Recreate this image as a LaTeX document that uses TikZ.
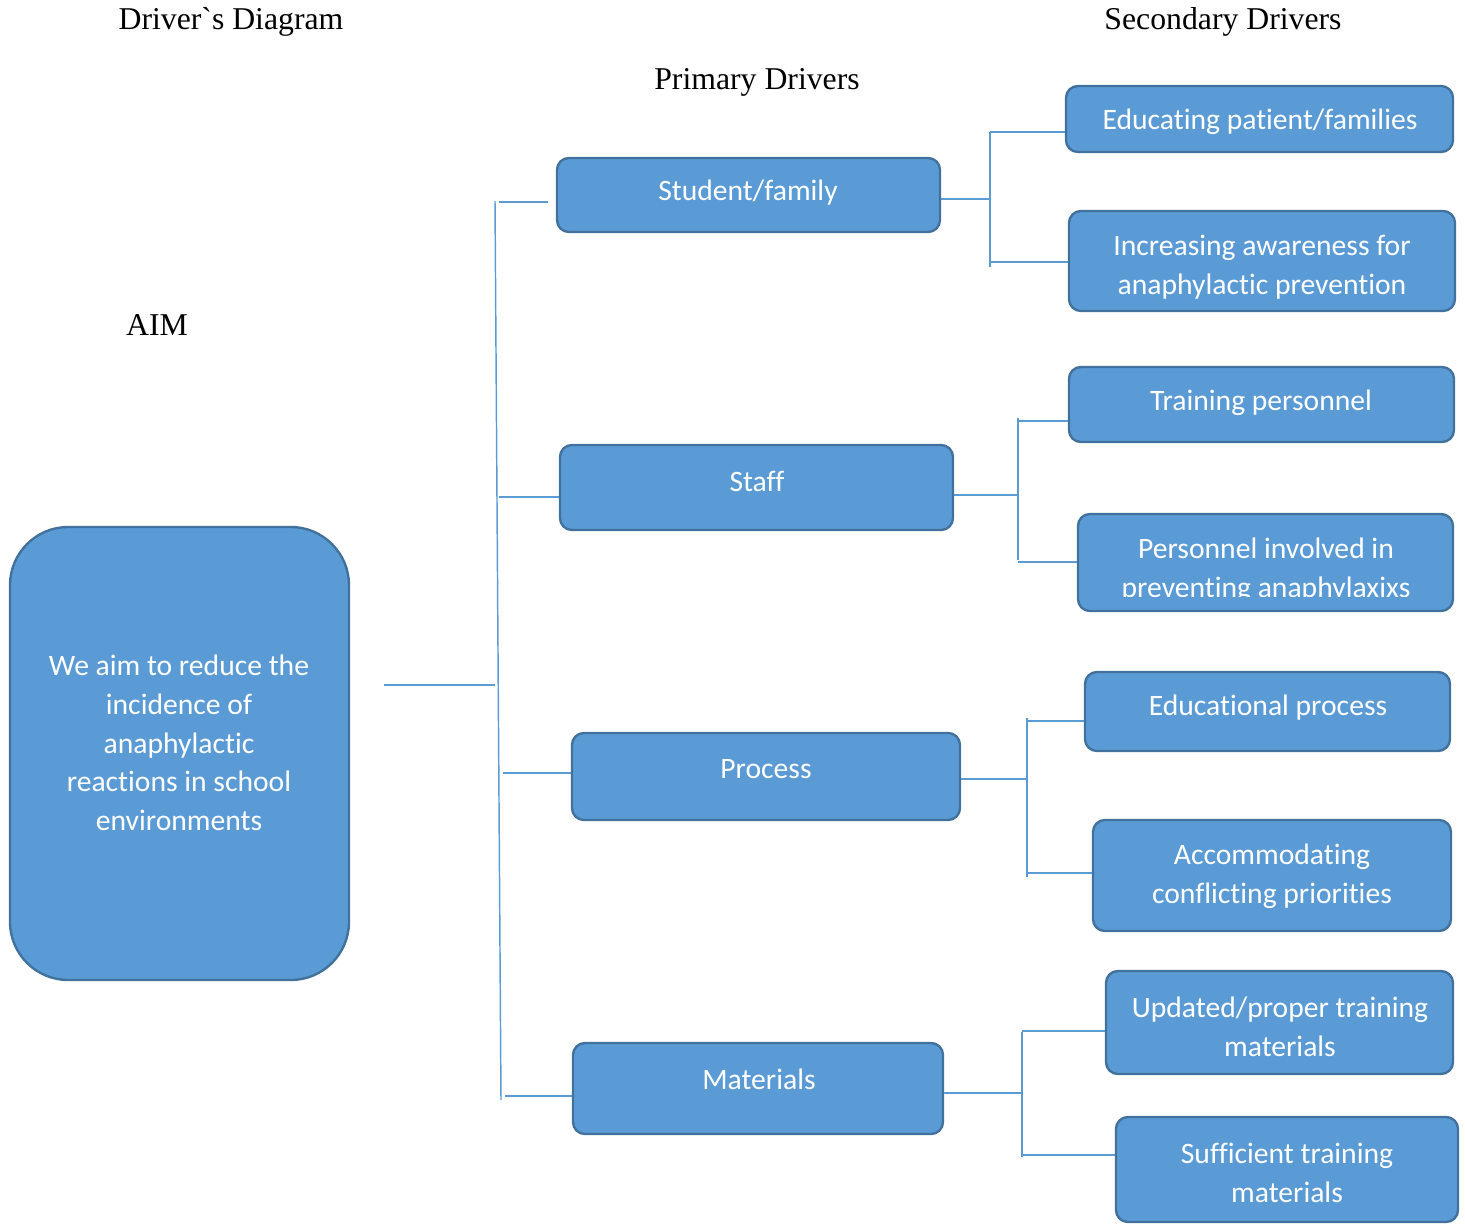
\documentclass[tikz,border=0pt]{standalone}
\usepackage{fontspec}
\setmainfont{Liberation Serif}
\newfontfamily\calibri[Ligatures=NoCommon]{Carlito}
\usepackage{tikz}
\usetikzlibrary{positioning, fit}
\definecolor{boxblue}{HTML}{5B9BD5}
\definecolor{boxedge}{HTML}{41719C}

\begin{document}
\begin{tikzpicture}[x=0.378pt, y=-0.378pt,
	drbox/.style={draw=boxedge, fill=boxblue, line width=0.9pt, rounded corners=4.5pt, inner sep=0pt},
	aimbox/.style={drbox, rounded corners=22pt},
	drtext/.style={text=white, font=\calibri\fontsize{11.2}{14.6}\selectfont, align=center, inner sep=0pt},
	head/.style={font=\fontsize{12}{14.4}\selectfont, inner sep=0pt},
	link/.style={draw=boxblue, line width=0.55pt}]

\useasboundingbox (0,0) rectangle (1465,1224);

% headings
\node[head] (title)     at (231,22)  {Driver\textasciigrave s Diagram};
\node[head] (secondary) at (1223,22) {Secondary Drivers};
\node[head] (primary)   at (757,82)  {Primary Drivers};
\node[head] (aim label) at (157,325) {AIM};

% aim
\node[aimbox, fit={(10,527) (349,980)}] (aim) {};
\node[drtext] at (179,743) {We aim to reduce the\\incidence of\\anaphylactic\\reactions in school\\environments};

% primary drivers
\node[drbox, fit={(557,158) (940,232)}]   (student) {};
\node[drbox, fit={(560,445) (953,530)}]   (staff) {};
\node[drbox, fit={(572,733) (960,820)}]   (process) {};
\node[drbox, fit={(573,1043) (943,1134)}] (materials) {};
\node[drtext] at (748,193)  {Student/family};
\node[drtext] at (757,481)  {Staff};
\node[drtext] at (766,769)  {Process};
\node[drtext] at (759,1079) {Materials};

% secondary drivers
\node[drbox, fit={(1066,86) (1453,152)}]    (educating) {};
\node[drbox, fit={(1069,211) (1455,311)}]   (awareness) {};
\node[drbox, fit={(1069,367) (1454,442)}]   (training) {};
\node[drbox, fit={(1078,514) (1453,611)}]   (involved) {};
\node[drbox, fit={(1085,672) (1450,751)}]   (eduprocess) {};
\node[drbox, fit={(1093,820) (1451,931)}]   (conflicting) {};
\node[drbox, fit={(1106,971) (1453,1074)}]  (updated) {};
\node[drbox, fit={(1116,1117) (1458,1222)}] (sufficient) {};
\node[drtext] at (1260,122)  {Educating patient/families};
\node[drtext] at (1262,267)  {Increasing awareness for\\anaphylactic prevention};
\node[drtext] at (1261,403)  {Training personnel};
\begin{scope}
	\clip (1078,514) rectangle (1453,596); % text cut off at the box bottom
	\node[drtext] at (1266,570) {Personnel involved in\\preventing anaphylaxixs};
\end{scope}
\node[drtext] at (1268,708)  {Educational process};
\node[drtext] at (1272,876)  {Accommodating\\conflicting priorities};
\node[drtext] at (1280,1027) {Updated/proper training\\materials};
\node[drtext] at (1287,1173) {Sufficient training\\materials};

% trunk from the aim
\coordinate (aim out)   at (384,685);
\coordinate (aim in)    at (495,685);
\coordinate (trunk top) at (495,201);
\coordinate (trunk bot) at (501,1100);
\draw[link] (aim out) -- (aim in);
\draw[link] (trunk top) -- (trunk bot);

\coordinate (to student)   at (499,202);
\coordinate (to staff)     at (499,497);
\coordinate (to process)   at (503,773);
\coordinate (to materials) at (505,1096);
\draw[link, shorten >=3pt] (to student) -- (student.west |- to student);
\draw[link] (to staff)     -- (staff.west |- to staff);
\draw[link] (to process)   -- (process.west |- to process);
\draw[link] (to materials) -- (materials.west |- to materials);

% brackets to the secondary drivers
\foreach \p/\a/\b/\vx/\ym/\vt/\vb/\yt/\yb in {
	student/educating/awareness/990/199/132/267/132/262,
	staff/training/involved/1018/495/418/560/421/562,
	process/eduprocess/conflicting/1027/779/718/877/721/873,
	materials/updated/sufficient/1022/1093/1032/1157/1031/1155} {
	\draw[link] (\p.east |- 0,\ym) -- (\vx,\ym); % from primary
	\draw[link] (\vx,\vt) -- (\vx,\vb); % bracket
	\draw[link] (\vx,\yt) -- (\a.west |- 0,\yt); % upper branch
	\draw[link] (\vx,\yb) -- (\b.west |- 0,\yb); % lower branch
}

\end{tikzpicture}
\end{document}
